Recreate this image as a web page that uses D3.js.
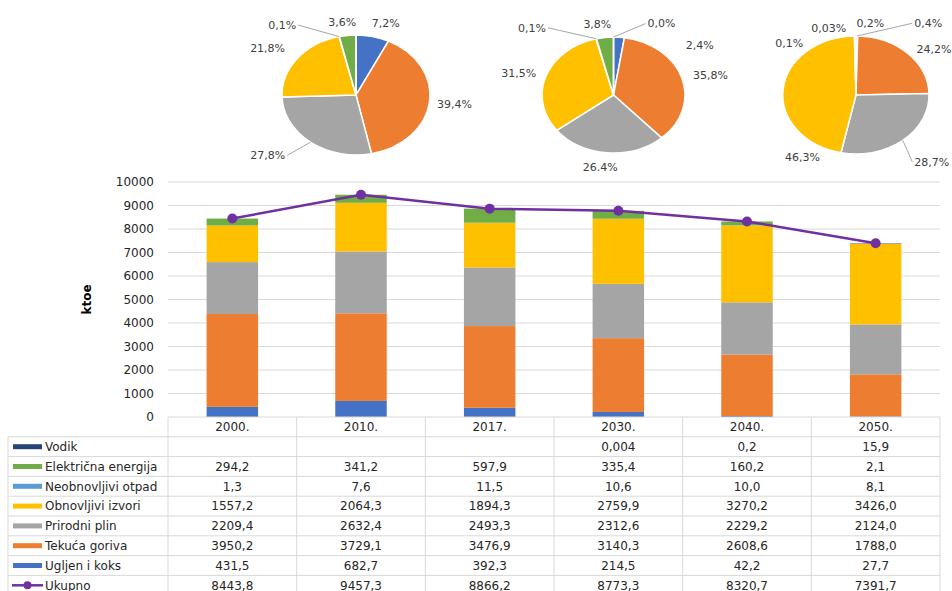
<!DOCTYPE html>
<html>
<head>
<meta charset="utf-8">
<script src="https://cdn.jsdelivr.net/npm/d3@7"></script>
<style>
  body { margin: 0; background: #fff; }
  svg { font-family: "DejaVu Sans", sans-serif; }
</style>
</head>
<body>
<svg id="chart" width="952" height="591"></svg>
<script>
// data (ktoe)
var years = ["2000.", "2010.", "2017.", "2030.", "2040.", "2050."];
var seriesNames = ["Ugljen i koks", "Tekuća goriva", "Prirodni plin", "Obnovljivi izvori", "Neobnovljivi otpad", "Električna energija", "Vodik"];
var ugljen = [431.5, 682.7, 392.3, 214.5, 42.2, 27.7];
var tekuca = [3950.2, 3729.1, 3476.9, 3140.3, 2608.6, 1788.0];
var plin = [2209.4, 2632.4, 2493.3, 2312.6, 2229.2, 2124.0];
var obnovljivi = [1557.2, 2064.3, 1894.3, 2759.9, 3270.2, 3426.0];
var neobnovljivi = [1.3, 7.6, 11.5, 10.6, 10.0, 8.1];
var elektricna = [294.2, 341.2, 597.9, 335.4, 160.2, 2.1];
var vodik = [null, null, null, 0.004, 0.2, 15.9];
var ukupno = [8443.8, 9457.3, 8866.2, 8773.3, 8320.7, 7391.7];
var yTicks = [0, 1000, 2000, 3000, 4000, 5000, 6000, 7000, 8000, 9000, 10000];
var pieYears = ["2010.", "2030.", "2050."];

var colours = ["#4472C4", "#ED7D31", "#A5A5A5", "#FFC000", "#5B9BD5", "#70AD47", "#264478"];
var lineColour = "#7030A0";
var gridColour = "#d9d9d9";

var series = [ugljen, tekuca, plin, obnovljivi, neobnovljivi, elektricna, vodik];

var svg = d3.select("#chart");

var plot = {left: 168, right: 940, top: 182, bottom: 417};

// rows for stack
var rows = years.map(function(y, i) {
  var r = {year: y};
  seriesNames.forEach(function(n, j) { r[n] = series[j][i] || 0; });
  return r;
});

var x = d3.scaleBand().domain(years).range([plot.left, plot.right]).paddingInner(0.6).paddingOuter(0.3);
var y = d3.scaleLinear().domain([0, 10000]).range([plot.bottom, plot.top]);

// gridlines
svg.append("g").selectAll("line").data(yTicks.slice(1)).enter().append("line")
  .attr("x1", plot.left).attr("x2", plot.right)
  .attr("y1", function(d) { return y(d); }).attr("y2", function(d) { return y(d); })
  .attr("stroke", gridColour).attr("stroke-width", 1);

// y axis labels
var yAxis = svg.append("g").attr("transform", "translate(" + (plot.left - 14) + ",0)")
  .call(d3.axisLeft(y).tickValues(yTicks).tickSize(0).tickPadding(0).tickFormat(d3.format("d")));
yAxis.select(".domain").remove();
yAxis.selectAll("text").attr("font-size", 12).attr("fill", "#262626").attr("font-family", "DejaVu Sans");

svg.append("text")
  .attr("transform", "translate(91," + ((plot.top + plot.bottom) / 2) + ") rotate(-90)")
  .attr("text-anchor", "middle").attr("font-size", 12).attr("font-weight", "bold")
  .text("ktoe");

// stacked bars
var stack = d3.stack().keys(seriesNames)(rows);
svg.append("g").selectAll("g").data(stack).enter().append("g")
  .attr("fill", function(d, i) { return colours[i]; })
  .selectAll("rect").data(function(d) { return d; }).enter().append("rect")
  .attr("x", function(d) { return x(d.data.year); })
  .attr("width", x.bandwidth())
  .attr("y", function(d) { return y(d[1]); })
  .attr("height", function(d) { return y(d[0]) - y(d[1]); });

// total line
var line = d3.line()
  .x(function(d, i) { return x(years[i]) + x.bandwidth() / 2; })
  .y(function(d) { return y(d); });

svg.append("path").datum(ukupno)
  .attr("d", line).attr("fill", "none")
  .attr("stroke", lineColour).attr("stroke-width", 2.5);

svg.append("g").selectAll("circle").data(ukupno).enter().append("circle")
  .attr("cx", function(d, i) { return x(years[i]) + x.bandwidth() / 2; })
  .attr("cy", function(d) { return y(d); })
  .attr("r", 5).attr("fill", lineColour);

// data table
var tbl = {left: 8, top: 417, rowH: 19.8, header: 19.8};
var colStep = (plot.right - plot.left) / years.length;
var locale = d3.formatLocale({decimal: ",", thousands: "", grouping: [3], currency: ["", ""]});
function fmt(v) {
  if (v == null) return "";
  if (v > 0 && v < 0.05) return locale.format(".3~f")(v);
  return locale.format(".1f")(v);
}

var tableRows = seriesNames.map(function(n, j) { return {name: n, values: series[j], colour: colours[j], type: "bar"}; }).reverse();
tableRows.push({name: "Ukupno", values: ukupno, colour: lineColour, type: "line"});

var tg = svg.append("g");
var tableBottom = tbl.top + tbl.header + tableRows.length * tbl.rowH;

// horizontal lines
tg.append("line").attr("x1", plot.left).attr("x2", plot.right).attr("y1", tbl.top).attr("y2", tbl.top)
  .attr("stroke", gridColour);
tg.selectAll("line.h").data(d3.range(tableRows.length)).enter().append("line")
  .attr("class", "h")
  .attr("x1", tbl.left).attr("x2", plot.right)
  .attr("y1", function(d) { return tbl.top + tbl.header + d * tbl.rowH; })
  .attr("y2", function(d) { return tbl.top + tbl.header + d * tbl.rowH; })
  .attr("stroke", gridColour);
// vertical lines
tg.append("line").attr("x1", tbl.left).attr("x2", tbl.left).attr("y1", tbl.top + tbl.header).attr("y2", tableBottom)
  .attr("stroke", gridColour);
tg.selectAll("line.v").data(d3.range(years.length + 1)).enter().append("line")
  .attr("class", "v")
  .attr("x1", function(d) { return plot.left + d * colStep; })
  .attr("x2", function(d) { return plot.left + d * colStep; })
  .attr("y1", tbl.top).attr("y2", tableBottom)
  .attr("stroke", gridColour);

// header years
tg.selectAll("text.yr").data(years).enter().append("text")
  .attr("class", "yr")
  .attr("x", function(d, i) { return plot.left + (i + 0.5) * colStep; })
  .attr("y", tbl.top + tbl.header / 2)
  .attr("dy", "0.35em").attr("text-anchor", "middle").attr("font-size", 12).attr("fill", "#262626")
  .text(function(d) { return d; });

var rowG = tg.selectAll("g.row").data(tableRows).enter().append("g")
  .attr("class", "row")
  .attr("transform", function(d, i) { return "translate(0," + (tbl.top + tbl.header + (i + 0.5) * tbl.rowH) + ")"; });

rowG.filter(function(d) { return d.type == "bar"; }).append("rect")
  .attr("x", 13).attr("y", -2.5).attr("width", 29).attr("height", 5)
  .attr("fill", function(d) { return d.colour; });
var lineKey = rowG.filter(function(d) { return d.type == "line"; });
lineKey.append("line").attr("x1", 12).attr("x2", 43).attr("y1", 0).attr("y2", 0)
  .attr("stroke", lineColour).attr("stroke-width", 2.5);
lineKey.append("circle").attr("cx", 27.5).attr("cy", 0).attr("r", 4).attr("fill", lineColour);

rowG.append("text").attr("x", 45).attr("dy", "0.35em").attr("font-size", 12).attr("fill", "#262626")
  .text(function(d) { return d.name; });

rowG.selectAll("text.val").data(function(d) { return d.values; }).enter().append("text")
  .attr("class", "val")
  .attr("x", function(d, i) { return plot.left + (i + 0.5) * colStep; })
  .attr("dy", "0.35em").attr("text-anchor", "middle").attr("font-size", 12).attr("fill", "#262626")
  .text(function(d) { return fmt(d); });

// pies for 2010, 2030, 2050
var pieLayout = [
  {cx: 356, cy: 95, rx: 74, ry: 60},
  {cx: 613.5, cy: 95, rx: 71.5, ry: 58},
  {cx: 856, cy: 95, rx: 73, ry: 59}
];
// pixel nudges from the default label spot, and which labels get a leader line
var labelNudge = [
  [[8, 4], [3, 0], [-29, -1], [-12, 1], [-52, 6], [-3, 5], [0, 0]],
  [[79, 25], [8, 2], [-5, -3], [-7, 3], [-59, 6], [-5, 4], [48, 4]],
  [[71, 5], [11, 8], [15, 8], [41, 69], [-65, 25], [-26, 10], [15, 5]]
];
var leaders = [[2, 4], [4, 6], [0, 2]];

svg.append("clipPath").attr("id", "pieclip").append("rect")
  .attr("x", 0).attr("y", 0).attr("width", 952).attr("height", 171);

var pies = svg.append("g").attr("clip-path", "url(#pieclip)");
var pie = d3.pie().sort(null).value(function(d) { return d; });
var arc = d3.arc().innerRadius(0).outerRadius(1);

pieYears.forEach(function(py, p) {
  var idx = years.indexOf(py);
  var vals = series.map(function(s) { return s[idx] || 0; });
  var total = d3.sum(vals);
  var arcs = pie(vals);
  var L = pieLayout[p];

  pies.append("g")
    .attr("transform", "translate(" + L.cx + "," + L.cy + ") scale(" + L.rx + "," + L.ry + ")")
    .selectAll("path").data(arcs).enter().append("path")
    .attr("d", arc)
    .attr("fill", function(d, i) { return colours[i]; })
    .attr("stroke", "#fff").attr("stroke-width", 1.5)
    .attr("vector-effect", "non-scaling-stroke");

  arcs.forEach(function(a, i) {
    if (a.value <= 0) return;
    var mid = (a.startAngle + a.endAngle) / 2;
    var k = 1.3;
    var lx = L.cx + L.rx * k * Math.sin(mid) + labelNudge[p][i][0];
    var ly = L.cy - L.ry * k * Math.cos(mid) + labelNudge[p][i][1];
    var share = a.value / total * 100;
    var txt = (share < 0.05 && share >= 0.005 ? locale.format(".2f")(share) : locale.format(".1f")(share)) + "%";
    var t = pies.append("text").attr("x", lx).attr("y", ly).attr("dy", "0.35em")
      .attr("text-anchor", "middle").attr("font-size", 11).attr("fill", "#404040")
      .text(txt);
    if (leaders[p].indexOf(i) >= 0) {
      var w = t.node().getComputedTextLength();
      var ax = L.cx + L.rx * Math.sin(mid);
      var ay = L.cy - L.ry * Math.cos(mid);
      var ex = ax > lx ? lx + w / 2 + 2 : lx - w / 2 - 2;
      pies.append("line").attr("x1", ax).attr("y1", ay).attr("x2", ex).attr("y2", ly)
        .attr("stroke", "#a6a6a6").attr("stroke-width", 1);
    }
  });
});
</script>
</body>
</html>
